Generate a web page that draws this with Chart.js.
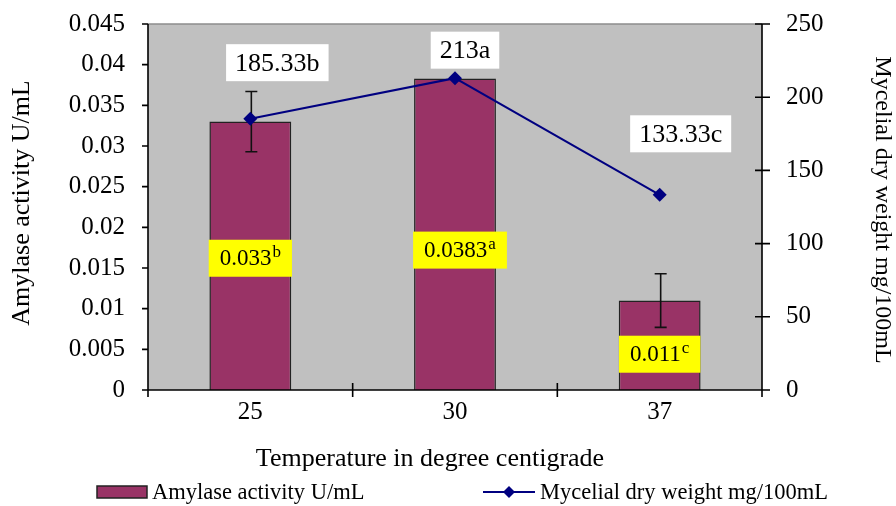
<!DOCTYPE html>
<html>
<head>
<meta charset="utf-8">
<script src="https://cdn.jsdelivr.net/npm/chart.js@4.4.1/dist/chart.umd.min.js"></script>
<style>
  html, body { margin: 0; padding: 0; background: #ffffff; }
  #contenitore { width: 896px; height: 506px; }
</style>
</head>
<body>
<div id="contenitore"><canvas id="grafico"></canvas></div>
<script>
// ============================================================
// DATI
// ============================================================
const temperature = ["25", "30", "37"];
const amilasi = [0.033, 0.0383, 0.011];
const erroriAmilasi = [0.0037, 0, 0.0033];
const pesoSecco = [185.33, 213, 133.33];
const etichetteAmilasi = ["0.033", "0.0383", "0.011"];
const lettereAmilasi = ["b", "a", "c"];
const etichettePeso = ["185.33b", "213a", "133.33c"];
const tickSinistra = [0, 0.005, 0.01, 0.015, 0.02, 0.025, 0.03, 0.035, 0.04, 0.045];
const tickDestra = [0, 50, 100, 150, 200, 250];

const FONT = "'Liberation Serif', 'Times New Roman', serif";
const COLORE_BARRE = "#993366";
const COLORE_LINEA = "#000080";

// posizione delle etichette (in unita' dell'asse sinistro per le gialle,
// in pixel rispetto al punto per le bianche)
const yEtichetteGialle = [0.0162, 0.0172, 0.0044];
const spostamentiBianche = [[27, -56], [10, -28], [21, -61]];

// sfondo grigio dell'area del grafico
const sfondoArea = {
  id: "sfondoArea",
  beforeDraw: function (chart) {
    const a = chart.chartArea;
    const ctx = chart.ctx;
    ctx.save();
    ctx.fillStyle = "#c0c0c0";
    ctx.fillRect(a.left, a.top, a.right - a.left, a.bottom - a.top);
    ctx.strokeStyle = "#8c8c8c";
    ctx.lineWidth = 1.5;
    ctx.beginPath();
    ctx.moveTo(a.left, a.top);
    ctx.lineTo(a.right, a.top);
    ctx.stroke();
    ctx.restore();
  }
};

// barre d'errore sopra le colonne
const barreErrore = {
  id: "barreErrore",
  afterDatasetDraw: function (chart, args) {
    if (args.index !== 0) return;
    const ctx = chart.ctx;
    const y = chart.scales.y;
    const meta = chart.getDatasetMeta(0);
    ctx.save();
    ctx.strokeStyle = "#111111";
    ctx.lineWidth = 1.6;
    meta.data.forEach(function (barra, i) {
      const e = erroriAmilasi[i];
      if (!e) return;
      const x = barra.x + 1;
      const yAlto = y.getPixelForValue(amilasi[i] + e);
      const yBasso = y.getPixelForValue(amilasi[i] - e);
      ctx.beginPath();
      ctx.moveTo(x, yAlto); ctx.lineTo(x, yBasso);
      ctx.moveTo(x - 6, yAlto); ctx.lineTo(x + 6, yAlto);
      ctx.moveTo(x - 6, yBasso); ctx.lineTo(x + 6, yBasso);
      ctx.stroke();
    });
    ctx.restore();
  }
};

// tacche degli assi, titoli, etichette nei riquadri e legenda
const decorazioni = {
  id: "decorazioni",
  afterDatasetsDraw: function (chart) {
    const ctx = chart.ctx;
    const a = chart.chartArea;
    const sx = chart.scales.x;
    const sy = chart.scales.y;
    const sy1 = chart.scales.y1;
    ctx.save();

    // assi
    ctx.strokeStyle = "#000000";
    ctx.lineWidth = 1.6;
    ctx.beginPath();
    ctx.moveTo(a.left, a.top); ctx.lineTo(a.left, a.bottom);
    ctx.moveTo(a.right, a.top); ctx.lineTo(a.right, a.bottom);
    ctx.moveTo(a.left - 6, a.bottom); ctx.lineTo(a.right + 8, a.bottom);
    tickSinistra.forEach(function (v) {
      const py = sy.getPixelForValue(v);
      ctx.moveTo(a.left - 6, py); ctx.lineTo(a.left, py);
    });
    tickDestra.forEach(function (v) {
      const py = sy1.getPixelForValue(v);
      ctx.moveTo(a.right - 7, py); ctx.lineTo(a.right + 8, py);
    });
    for (let i = 0; i <= temperature.length; i++) {
      const px = sx.getPixelForValue(i - 0.5);
      ctx.moveTo(px, a.bottom - 7); ctx.lineTo(px, a.bottom + 7);
    }
    ctx.stroke();

    // titoli degli assi
    ctx.fillStyle = "#000000";
    ctx.textAlign = "center";
    ctx.textBaseline = "middle";
    ctx.font = "26px " + FONT;
    ctx.fillText("Temperature in degree centigrade", 430, 459);
    ctx.save();
    ctx.translate(22, 203);
    ctx.rotate(-Math.PI / 2);
    ctx.fillText("Amylase activity U/mL", 0, 0);
    ctx.restore();
    ctx.font = "24px " + FONT;
    ctx.save();
    ctx.translate(882, 210);
    ctx.rotate(Math.PI / 2);
    ctx.fillText("Mycelial dry weight mg/100mL", 0, 0);
    ctx.restore();

    // etichette gialle sulle colonne
    const metaBarre = chart.getDatasetMeta(0);
    metaBarre.data.forEach(function (barra, i) {
      ctx.font = "23px " + FONT;
      const wTesto = ctx.measureText(etichetteAmilasi[i]).width;
      ctx.font = "17px " + FONT;
      const wApice = ctx.measureText(lettereAmilasi[i]).width;
      const w = wTesto + wApice + 1 + 22;
      const h = 37;
      const cx = barra.x + (i === 1 ? 5 : 0);
      const cy = sy.getPixelForValue(yEtichetteGialle[i]);
      ctx.fillStyle = "#ffff00";
      ctx.fillRect(cx - w / 2, cy - h / 2, w, h);
      ctx.fillStyle = "#000000";
      ctx.textAlign = "left";
      ctx.textBaseline = "middle";
      const x0 = cx - (wTesto + wApice + 1) / 2;
      ctx.font = "23px " + FONT;
      ctx.fillText(etichetteAmilasi[i], x0, cy + 1);
      ctx.font = "17px " + FONT;
      ctx.fillText(lettereAmilasi[i], x0 + wTesto + 1, cy - 6);
    });

    // etichette bianche sulla linea
    const metaLinea = chart.getDatasetMeta(1);
    metaLinea.data.forEach(function (punto, i) {
      ctx.font = "26px " + FONT;
      const w = ctx.measureText(etichettePeso[i]).width + 18;
      const h = 37;
      const cx = punto.x + spostamentiBianche[i][0];
      const cy = punto.y + spostamentiBianche[i][1];
      ctx.fillStyle = "#ffffff";
      ctx.fillRect(cx - w / 2, cy - h / 2, w, h);
      ctx.fillStyle = "#000000";
      ctx.textAlign = "center";
      ctx.textBaseline = "middle";
      ctx.fillText(etichettePeso[i], cx, cy + 1);
    });

    // legenda
    const yl = 492;
    ctx.fillStyle = COLORE_BARRE;
    ctx.strokeStyle = "#222222";
    ctx.lineWidth = 1.5;
    ctx.fillRect(97, yl - 6, 50, 12);
    ctx.strokeRect(97, yl - 6, 50, 12);
    ctx.strokeStyle = COLORE_LINEA;
    ctx.lineWidth = 2;
    ctx.beginPath();
    ctx.moveTo(483, yl); ctx.lineTo(535, yl);
    ctx.stroke();
    ctx.fillStyle = COLORE_LINEA;
    ctx.beginPath();
    ctx.moveTo(509, yl - 6); ctx.lineTo(515, yl); ctx.lineTo(509, yl + 6); ctx.lineTo(503, yl);
    ctx.closePath();
    ctx.fill();
    ctx.fillStyle = "#000000";
    ctx.font = "22.5px " + FONT;
    ctx.textAlign = "left";
    ctx.textBaseline = "middle";
    ctx.fillText("Amylase activity U/mL", 152, yl + 1);
    ctx.fillText("Mycelial dry weight mg/100mL", 540, yl + 1);

    ctx.restore();
  }
};

function fissaAsseVerticale(larghezza) {
  return function (scala) {
    scala.width = larghezza;
    scala.paddingTop = 0;
    scala.paddingBottom = 0;
  };
}

new Chart(document.getElementById("grafico"), {
  type: "bar",
  data: {
    labels: temperature,
    datasets: [
      {
        label: "Amylase activity U/mL",
        data: amilasi,
        backgroundColor: COLORE_BARRE,
        borderColor: "#222222",
        borderWidth: 1.5,
        barPercentage: 0.4,
        categoryPercentage: 1,
        yAxisID: "y",
        order: 2
      },
      {
        type: "line",
        label: "Mycelial dry weight mg/100mL",
        data: pesoSecco,
        borderColor: COLORE_LINEA,
        backgroundColor: COLORE_LINEA,
        borderWidth: 2,
        pointStyle: "rectRot",
        pointRadius: 7,
        pointBorderWidth: 0,
        tension: 0,
        yAxisID: "y1",
        order: 1
      }
    ]
  },
  options: {
    responsive: true,
    maintainAspectRatio: false,
    animation: false,
    layout: { padding: { top: 24, left: 0, right: 0, bottom: 0 } },
    plugins: {
      legend: { display: false },
      tooltip: { enabled: false }
    },
    scales: {
      x: {
        offset: true,
        grid: { display: false, drawTicks: false },
        border: { display: false },
        ticks: { color: "#000000", font: { family: FONT, size: 25 }, padding: 7 },
        afterFit: function (scala) { scala.height = 116; }
      },
      y: {
        position: "left",
        min: 0,
        max: 0.045,
        grid: { display: false, drawTicks: false },
        border: { display: false },
        ticks: {
          stepSize: 0.005,
          color: "#000000",
          padding: 23,
          font: { family: FONT, size: 25 },
          callback: function (v) { return String(Number(v.toFixed(3))); }
        },
        afterBuildTicks: function (scala) {
          scala.ticks = tickSinistra.map(function (v) { return { value: v }; });
        },
        afterFit: fissaAsseVerticale(148)
      },
      y1: {
        position: "right",
        min: 0,
        max: 250,
        grid: { display: false, drawTicks: false },
        border: { display: false },
        ticks: {
          stepSize: 50,
          color: "#000000",
          padding: 24,
          font: { family: FONT, size: 25 }
        },
        afterBuildTicks: function (scala) {
          scala.ticks = tickDestra.map(function (v) { return { value: v }; });
        },
        afterFit: fissaAsseVerticale(134)
      }
    }
  },
  plugins: [sfondoArea, barreErrore, decorazioni]
});
</script>
</body>
</html>
